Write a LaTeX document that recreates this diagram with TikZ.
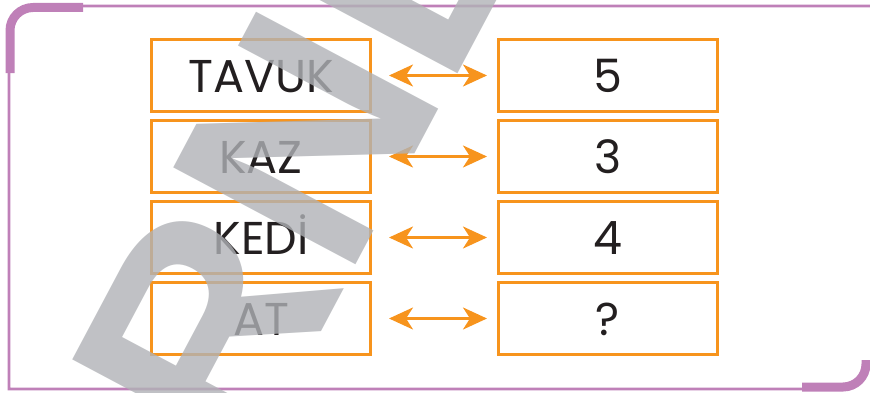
\documentclass[tikz,border=0pt]{standalone}
\usepackage{fontspec}
\setmainfont{Poppins}
\newfontfamily\markfont{Liberation Sans}
\usepackage{tikz}
\usetikzlibrary{arrows.meta,positioning}
\definecolor{boxorange}{RGB}{247,148,29}
\definecolor{framepurple}{RGB}{191,128,184}
\definecolor{inkblack}{RGB}{35,31,32}
\definecolor{markgrey}{RGB}{176,178,182}

\begin{document}
\begin{tikzpicture}[
    x=1pt, y=1pt,
    font=\fontsize{46}{46}\selectfont,
    node distance=0mm,
    cell/.style={draw=boxorange, line width=3pt, minimum width=219pt, minimum height=72pt, inner sep=0pt, text=inkblack, text height=33pt, text depth=0pt},
    link/.style={{Stealth[length=24pt,width=22pt,inset=7pt]}-{Stealth[length=24pt,width=22pt,inset=7pt]}, draw=boxorange, line width=2.6pt, shorten <=17pt, shorten >=10pt},
    frameline/.style={draw=framepurple, line width=2.6pt},
    framecorner/.style={draw=framepurple, line width=9pt, rounded corners=23pt}
]
\useasboundingbox (0,0) rectangle (870,392);
\clip (0,0) rectangle (870,392);

\draw[frameline] (870,386) [rounded corners=23pt] -| (9,150) [sharp corners] |- (802,3);
\draw[framecorner] (10,319) |- (83,384.5);
\draw[framecorner] (802,5) -| (866,32);

\node[cell] (a1) at (261,316.5) {TAVUK};
\node[cell, below=6pt of a1] (a2) {KAZ};
\node[cell, below=6pt of a2] (a3) {KEDİ};
\node[cell, below=6pt of a3] (a4) {AT};
\node[cell, right=125pt of a1] (n1) {5};
\node[cell, below=6pt of n1] (n2) {3};
\node[cell, below=6pt of n2] (n3) {4};
\node[cell, below=6pt of n3] (n4) {?};

\foreach \i in {1,...,4}
  \draw[link] (a\i.east) -- (n\i.west);

\node[font=\markfont\bfseries\fontsize{300}{300}\selectfont, text=markgrey, text opacity=0.8, rotate=62, anchor=base] (mark) at (390,190) {ÖRNEK};
\end{tikzpicture}
\end{document}
